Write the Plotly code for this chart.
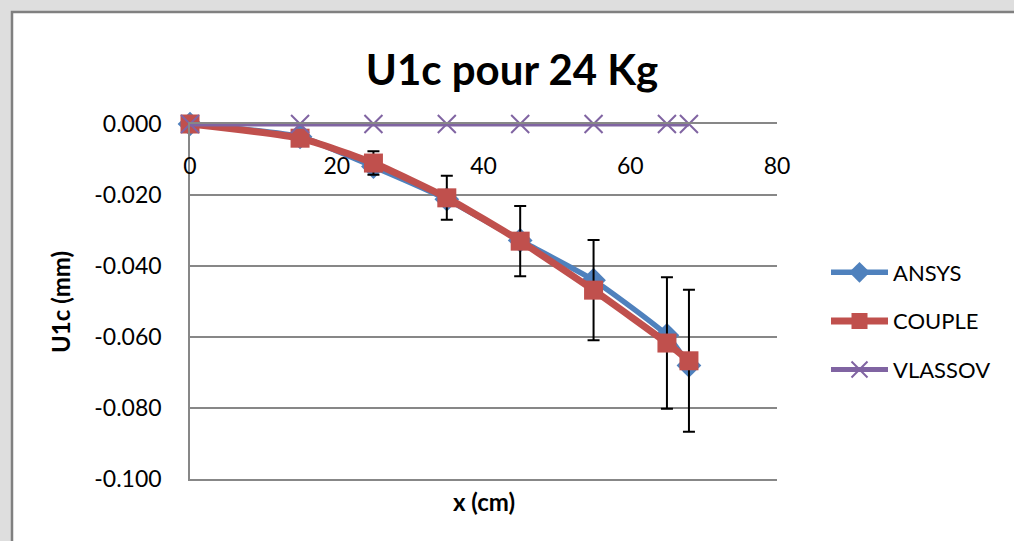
import plotly.graph_objects as go

x_cm = [0, 15, 25, 35, 45, 55, 65, 68]
ansys = [0.0, -0.0036, -0.0120, -0.0212, -0.0328, -0.0440, -0.0595, -0.0680]
couple = [0.0, -0.0040, -0.0110, -0.0208, -0.0330, -0.0468, -0.0617, -0.0667]
vlassov = [0.0, 0.0, 0.0, 0.0, 0.0, 0.0, 0.0, 0.0]
couple_err = [0.0, 0.0012, 0.0033, 0.0062, 0.0099, 0.0141, 0.0185, 0.0200]

y_ticks = [0.0, -0.02, -0.04, -0.06, -0.08, -0.10]
x_ticks = [0, 20, 40, 60, 80]

W, H = 1014, 541
L, R, T, B = 190, 777, 124, 479  # plot area pixels

def px(xp):
    return (xp - L) / (R - L)

def py(yp):
    return (B - yp) / (B - T)

FONT = "Lato"
GRID = "#878787"

fig = go.Figure()
fig.add_trace(go.Scatter(
    x=x_cm, y=ansys, name="ANSYS", mode="lines+markers",
    line=dict(color="#4F81BD", width=5.5, shape="spline", smoothing=0.5),
    marker=dict(symbol="diamond", size=19, color="#4F81BD"),
    cliponaxis=False, legendgroup="a",
))
fig.add_trace(go.Scatter(
    x=x_cm, y=couple, name="COUPLE", mode="lines+markers",
    line=dict(color="#C0504D", width=7, shape="spline", smoothing=0.5),
    marker=dict(symbol="square", size=19, color="#C0504D"),
    error_y=dict(type="data", array=couple_err, visible=True,
                 color="black", thickness=2, width=6),
    cliponaxis=False, legendgroup="b",
))
fig.add_trace(go.Scatter(
    x=x_cm, y=vlassov, name="VLASSOV", mode="lines+markers",
    line=dict(color="#8064A2", width=5),
    marker=dict(symbol="x-thin", size=18, line=dict(color="#8064A2", width=2)),
    cliponaxis=False, legendgroup="c",
))

fig.update_layout(
    width=W, height=H,
    margin=dict(l=L, r=W - R, t=T, b=H - B),
    paper_bgcolor="#dedede",
    plot_bgcolor="rgba(0,0,0,0)",
    font=dict(family=FONT, color="black", size=22),
    title=dict(text="<b>U1c pour 24 Kg</b>", x=512 / W, xanchor="center",
               y=1 - 70 / H, yanchor="middle",
               font=dict(family=FONT, size=42, color="black")),
    xaxis=dict(range=[0, 80], tickvals=x_ticks, ticktext=[str(v) for v in x_ticks],
               anchor="free", position=py(150), side="bottom",
               showline=False, showgrid=False, zeroline=False, ticks="",
               tickfont=dict(family=FONT, size=23, color="black")),
    xaxis2=dict(range=[0, 80], overlaying="x", anchor="y", side="bottom",
                showline=True, mirror=True, linecolor=GRID, linewidth=1.5,
                showgrid=False, zeroline=False, showticklabels=False, ticks=""),
    yaxis=dict(range=[-0.1, 0], tickvals=y_ticks,
               ticktext=["%.3f" % v if v != 0 else "0.000" for v in y_ticks],
               showgrid=True, gridcolor=GRID, gridwidth=1.5,
               showline=True, linecolor=GRID, linewidth=1.5,
               zeroline=False, ticks="", ticklabelstandoff=22,
               tickfont=dict(family=FONT, size=23, color="black")),
    legend=dict(x=px(826), y=py(321), xanchor="left", yanchor="middle",
                font=dict(family=FONT, size=22, color="black"),
                itemwidth=57, tracegroupgap=17, bgcolor="rgba(0,0,0,0)"),
    shapes=[dict(type="rect", xref="paper", yref="paper",
                 x0=px(12), x1=px(1030), y0=py(560), y1=py(12),
                 fillcolor="white", line=dict(color="#808080", width=2.5),
                 layer="below")],
    annotations=[
        dict(text="<b>U1c (mm)</b>", xref="paper", yref="paper",
             x=px(60), y=py(302), textangle=-90, showarrow=False,
             xanchor="center", yanchor="middle",
             font=dict(family=FONT, size=24, color="black")),
        dict(text="<b>x (cm)</b>", xref="paper", yref="paper",
             x=px(484), y=py(502), showarrow=False,
             xanchor="center", yanchor="middle",
             font=dict(family=FONT, size=24, color="black")),
    ],
)

# invisible helper trace to activate the line-drawing x axis
fig.add_trace(go.Scatter(x=[None], y=[None], xaxis="x2", showlegend=False,
                         hoverinfo="skip"))

fig.write_html("out.html")
